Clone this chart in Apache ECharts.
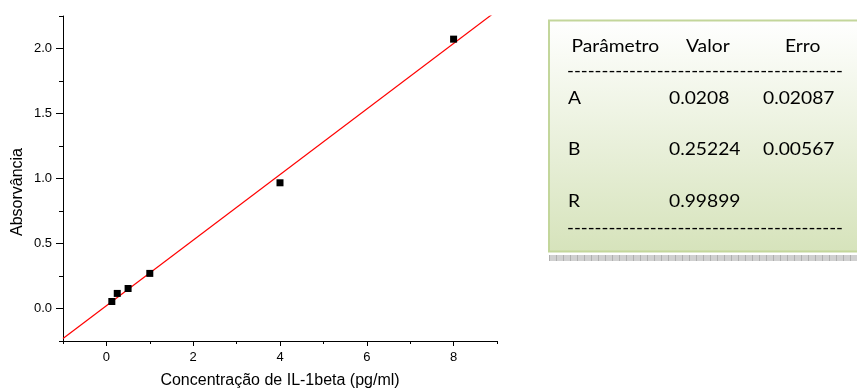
<!DOCTYPE html>
<html><head><meta charset="utf-8">
<script src="https://cdn.jsdelivr.net/npm/echarts@6/dist/echarts.min.js"></script>
<style>html,body{margin:0;padding:0;background:#fff}#c{width:857px;height:389px}</style>
</head><body><div id="c"></div>
<script>
// ---- data ----
const concentration = [0.125, 0.25, 0.5, 1, 4, 8];
const absorbance = [0.054, 0.116, 0.154, 0.270, 0.967, 2.072];
const fitX = [-1, 9];
const fitY = [-0.2314, 2.2910];
const xTickLabels = [0, 2, 4, 6, 8];
const yTickLabels = [0, 0.5, 1, 1.5, 2];
const xTitle = 'Concentração de IL-1beta (pg/ml)';
const yTitle = 'Absorvância';
const tableHeader = ['Parâmetro', 'Valor', 'Erro'];
const tableRows = [['A', '0.0208', '0.02087'], ['B', '0.25224', '0.00567'], ['R', '0.99899', '']];

// ---- layout ----
const AX = 'Liberation Sans';
const TF = 'Lato';
const TFS = 17.5;
const TSX = 1.1;
const headerX = [571.5, 686, 785];
const rowX = [568, 669, 763];
const headerY = 46.5;
const rowY = [98.5, 149.5, 201];
const dashY = [71.5, 228.5];
const dashX0 = 567, dashX1 = 843;

const chart = echarts.init(document.getElementById('c'), null, {renderer: 'canvas'});

const ctx = document.createElement('canvas').getContext('2d');
ctx.font = TFS + 'px ' + TF;
const dashStr = '-'.repeat(40);
const dashScale = (dashX1 - dashX0) / ctx.measureText(dashStr).width;

function txt(s, x, y, sx) {
  return {type: 'text', x: x, y: y, scaleX: sx, z: 10,
    style: {text: s, font: TFS + 'px ' + TF, fill: '#000', align: 'left', verticalAlign: 'middle'}};
}
const graphics = [
  {type: 'rect', shape: {x: 549, y: 255, width: 320, height: 6}, style: {fill: '#d0d0d0'}, z: 1},
  {type: 'line', shape: {x1: 549, y1: 258, x2: 857, y2: 258}, style: {stroke: '#b0b0b0', lineWidth: 6, lineDash: [1, 6]}, z: 2},
  {type: 'rect', shape: {x: 549, y: 20.5, width: 330, height: 231}, z: 3,
    style: {fill: new echarts.graphic.LinearGradient(0, 0, 0, 1, [{offset: 0, color: '#ffffff'}, {offset: 1, color: '#d6e3bb'}]),
      stroke: '#c3d69b', lineWidth: 2}},
  {type: 'text', x: 18, y: 192, rotation: Math.PI / 2,
    style: {text: yTitle, font: '16px "' + AX + '"', fill: '#000', align: 'center', verticalAlign: 'middle'}}
];
tableHeader.forEach((h, i) => graphics.push(txt(h, headerX[i], headerY, TSX)));
tableRows.forEach((r, j) => r.forEach((v, i) => { if (v) graphics.push(txt(v, rowX[i], rowY[j], TSX)); }));
dashY.forEach(y => graphics.push(txt(dashStr, dashX0, y, dashScale)));

const axisCommon = {type: 'value', splitLine: {show: false}};
chart.setOption({
  animation: false,
  backgroundColor: '#fff',
  grid: {left: 63, top: 16, right: 360, bottom: 48, containLabel: false, outerBoundsMode: 'none'},
  xAxis: [
    Object.assign({}, axisCommon, {min: -1, max: 9, interval: 1, position: 'bottom',
      axisLine: {show: true, onZero: false, lineStyle: {color: '#000', width: 1}},
      axisTick: {show: true, length: 3, lineStyle: {color: '#000'}},
      axisLabel: {show: false}}),
    Object.assign({}, axisCommon, {min: -1, max: 9, position: 'bottom',
      axisLine: {show: false, onZero: false},
      axisTick: {show: true, length: 5, customValues: xTickLabels, lineStyle: {color: '#000'}},
      axisLabel: {show: true, customValues: xTickLabels, margin: 10, fontFamily: AX, fontSize: 13, color: '#000'},
      name: xTitle, nameLocation: 'middle', nameGap: 32,
      nameTextStyle: {fontFamily: AX, fontSize: 16, color: '#000'}})
  ],
  yAxis: [
    Object.assign({}, axisCommon, {min: -0.25, max: 2.25, interval: 0.25, position: 'left',
      axisLine: {show: true, onZero: false, lineStyle: {color: '#000', width: 1}},
      axisTick: {show: true, length: 4, lineStyle: {color: '#000'}},
      axisLabel: {show: false}}),
    Object.assign({}, axisCommon, {min: -0.25, max: 2.25, position: 'left',
      axisLine: {show: false, onZero: false},
      axisTick: {show: true, length: 7, customValues: yTickLabels, lineStyle: {color: '#000'}},
      axisLabel: {show: true, customValues: yTickLabels, margin: 11, fontFamily: AX, fontSize: 13, color: '#000',
        formatter: v => Number(v).toFixed(1)}})
  ],
  series: [
    {type: 'line', xAxisIndex: 0, yAxisIndex: 0, data: fitX.map((x, i) => [x, fitY[i]]),
      showSymbol: false, symbol: 'none', clip: true, lineStyle: {color: '#ff0000', width: 1.2}, z: 2},
    {type: 'scatter', xAxisIndex: 0, yAxisIndex: 0, data: concentration.map((x, i) => [x, absorbance[i]]),
      symbol: 'rect', symbolSize: 7, itemStyle: {color: '#000', opacity: 1}, z: 3}
  ],
  graphic: graphics
});
</script></body></html>
